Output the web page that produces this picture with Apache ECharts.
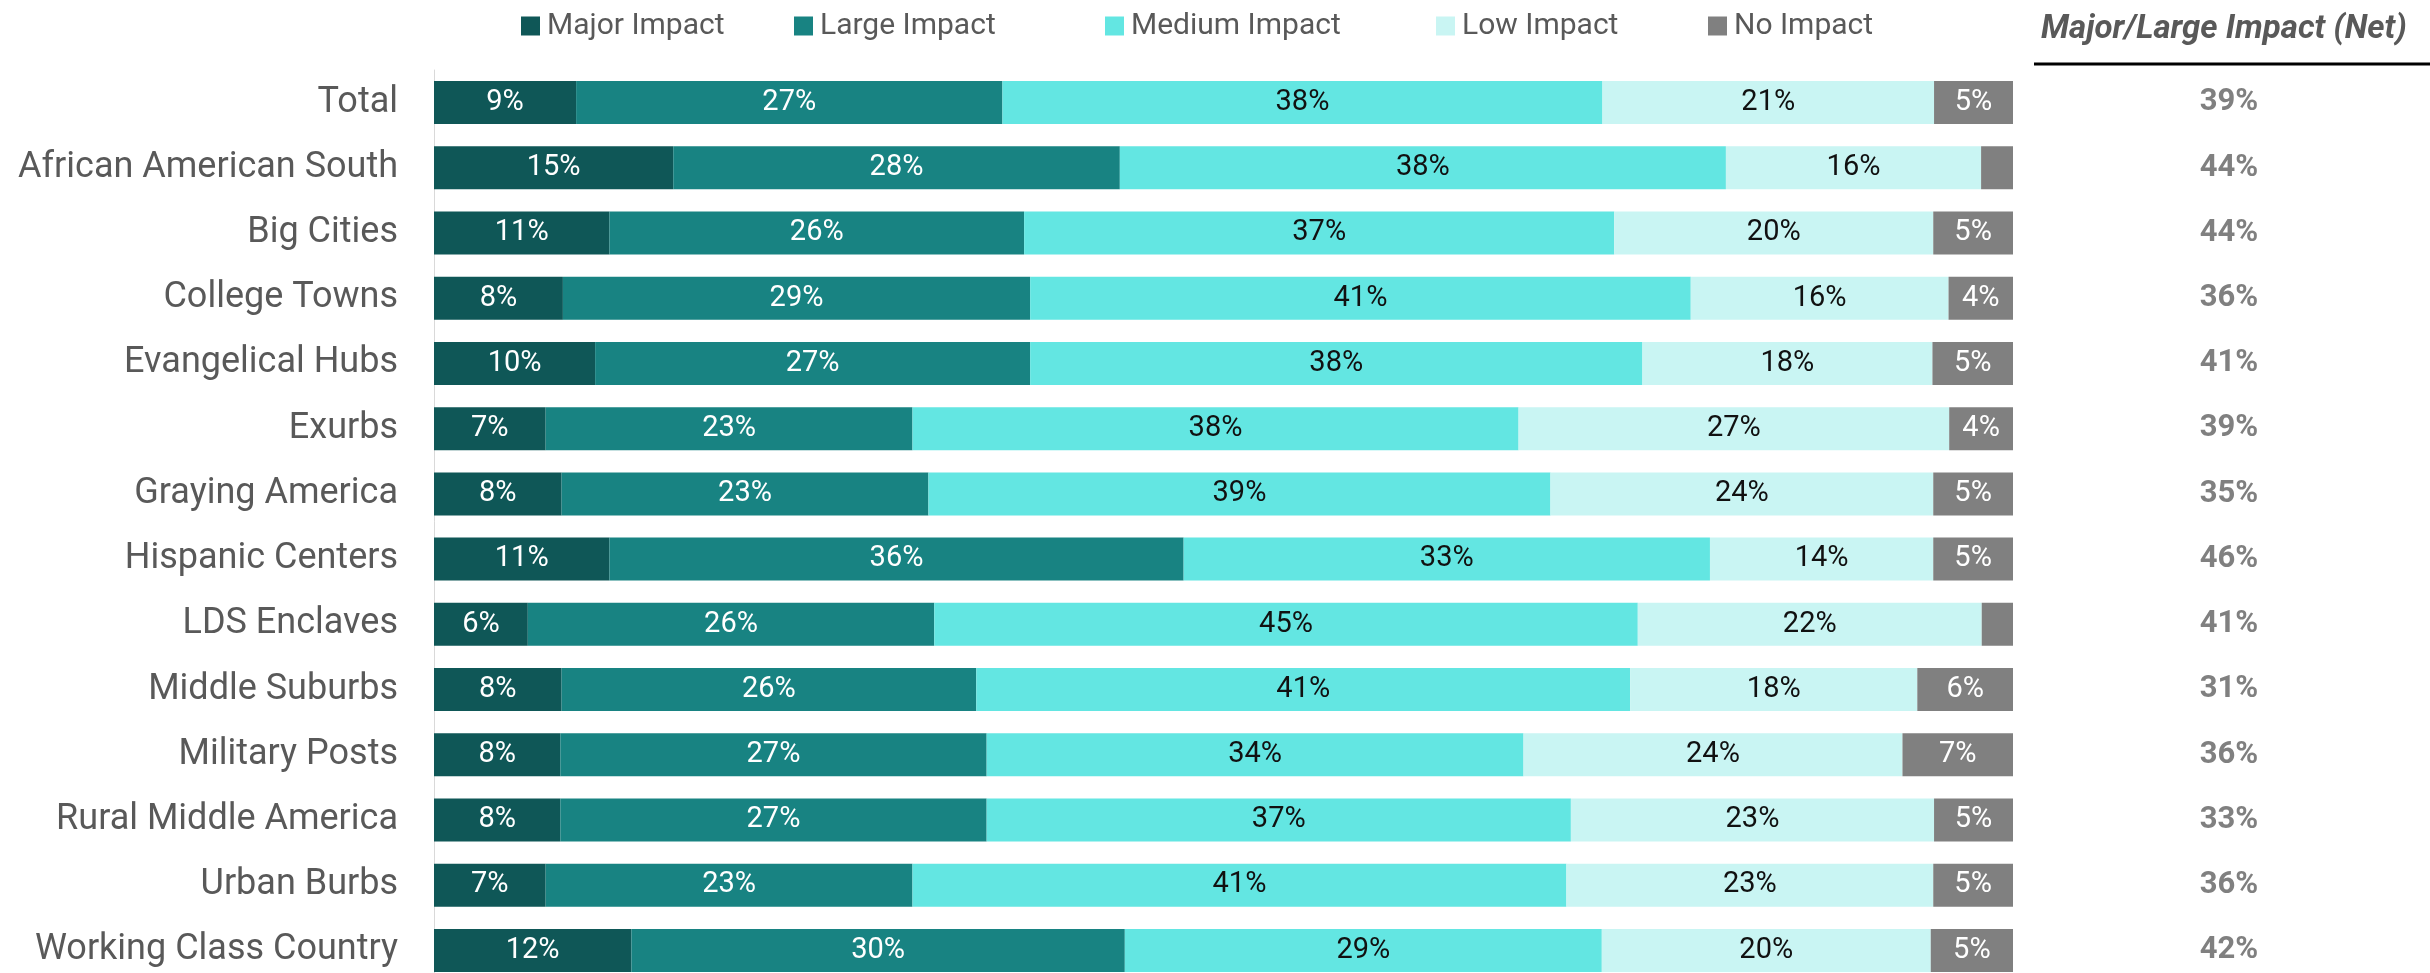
<!DOCTYPE html>
<html>
<head>
<meta charset="utf-8">
<script src="https://cdn.jsdelivr.net/npm/echarts@6/dist/echarts.min.js"></script>
<style>
html,body{margin:0;padding:0;background:#fff;}
#chart{width:2430px;height:973px;}
</style>
</head>
<body>
<div id="chart"></div>
<script>
const categories = ["Total","African American South","Big Cities","College Towns","Evangelical Hubs","Exurbs","Graying America","Hispanic Centers","LDS Enclaves","Middle Suburbs","Military Posts","Rural Middle America","Urban Burbs","Working Class Country"];
const seriesNames = ["Major Impact","Large Impact","Medium Impact","Low Impact","No Impact"];
const majorImpact  = [9,15,11,8,10,7,8,11,6,8,8,8,7,12];
const largeImpact  = [27,28,26,29,27,23,23,36,26,26,27,27,23,30];
const mediumImpact = [38,38,37,41,38,38,39,33,45,41,34,37,41,29];
const lowImpact    = [21,16,20,16,18,27,24,14,22,18,24,23,23,20];
const noImpact     = [5,2,5,4,5,4,5,5,2,6,7,5,5,5];
const netMajorLarge = [39,44,44,36,41,39,35,46,41,31,36,33,36,42];

const colors = ['#0F5757','#188382','#63E6E2','#C9F5F3','#808080'];
const labelColors = ['#ffffff','#ffffff','#111111','#111111','#ffffff'];
const legendLefts = [516, 789, 1100, 1431, 1703];
const raw = [majorImpact, largeImpact, mediumImpact, lowImpact, noImpact];
const totals = categories.map((c,i)=>raw.reduce((s,a)=>s+a[i],0));
const FONT = 'Roboto';

const chart = echarts.init(document.getElementById('chart'), null, {renderer:'canvas'});
const series = raw.map((arr, k) => ({
  name: seriesNames[k],
  type: 'bar',
  stack: 'all',
  barWidth: 43,
  itemStyle: {color: colors[k]},
  label: {
    show: true,
    position: 'inside',
    color: labelColors[k],
    fontFamily: FONT,
    fontSize: 29,
    formatter: p => arr[p.dataIndex] >= 3 ? arr[p.dataIndex] + '%' : ''
  },
  emphasis: {disabled: true},
  data: arr.map((v,i) => v / totals[i] * 100)
}));

const legends = seriesNames.map((n, k) => ({
  data: [n],
  left: legendLefts[k], top: 6,
  itemWidth: 19, itemHeight: 19,
  icon: 'rect',
  selectedMode: false,
  textStyle: {fontFamily: FONT, fontSize: 30, color: '#595959', padding: [0,0,0,2]}
}));

chart.setOption({
  animation: false,
  backgroundColor: '#ffffff',
  color: colors,
  title: {
    text: 'Major/Large Impact (Net)',
    left: 2036, top: 8,
    textStyle: {fontFamily: FONT, fontSize: 33, fontWeight: 'bold', fontStyle: 'italic', color: '#595959'}
  },
  legend: legends,
  grid: {left: 434, width: 1579, top: 70, height: 913, outerBoundsMode: 'none'},
  xAxis: {type: 'value', min: 0, max: 100, show: false},
  yAxis: [{
    type: 'category',
    data: categories,
    inverse: true,
    axisLine: {show: true, lineStyle: {color: '#d9d9d9', width: 1}},
    axisTick: {show: false},
    axisLabel: {fontFamily: FONT, fontSize: 36, color: '#595959', margin: 36}
  },{
    type: 'category',
    data: netMajorLarge.map(v => v + '%'),
    inverse: true,
    position: 'right',
    axisLine: {show: false},
    axisTick: {show: false},
    axisLabel: {fontFamily: FONT, fontSize: 31, fontWeight: 'bold', color: '#808080', margin: 216, align: 'center'}
  }],
  graphic: [{
    type: 'line',
    shape: {x1: 2034, y1: 64, x2: 2430, y2: 64},
    style: {stroke: '#000000', lineWidth: 3}
  }],
  series: series
});
</script>
</body>
</html>
